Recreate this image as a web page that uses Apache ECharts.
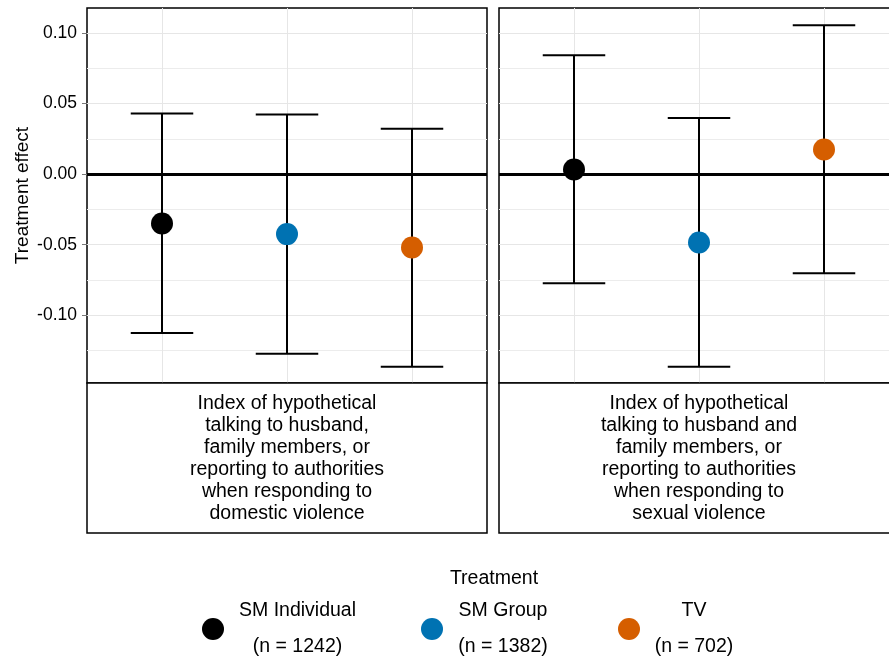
<!DOCTYPE html>
<html>
<head>
<meta charset="utf-8">
<script src="https://cdn.jsdelivr.net/npm/echarts@6/dist/echarts.min.js"></script>
<style>
  html, body { margin: 0; padding: 0; background: #fff; }
  #chart { width: 889px; height: 660px; }
</style>
</head>
<body>
<div id="chart"></div>
<script>
// Treatment arms, their sample sizes and colours
const categories = ['SM Individual', 'SM Group', 'TV'];
const sampleSizes = [1242, 1382, 702];
const armColors = ['#000000', '#0072B2', '#D55E00'];

// Outcome facets
const outcomeLabels = [
  'Index of hypothetical\ntalking to husband,\nfamily members, or\nreporting to authorities\nwhen responding to\ndomestic violence',
  'Index of hypothetical\ntalking to husband and\nfamily members, or\nreporting to authorities\nwhen responding to\nsexual violence'
];

// Estimates with confidence bounds, domestic violence index
const domesticEstimate = [-0.035, -0.0425, -0.052];
const domesticLower = [-0.1126, -0.1273, -0.1365];
const domesticUpper = [0.043, 0.0423, 0.0321];

// Estimates with confidence bounds, sexual violence index
const sexualEstimate = [0.0033, -0.0484, 0.0175];
const sexualLower = [-0.0774, -0.1365, -0.0703];
const sexualUpper = [0.0843, 0.0397, 0.1055];

// Axis ticks
const yTicks = [-0.10, -0.05, 0.00, 0.05, 0.10];
const yMinorTicks = [-0.125, -0.075, -0.025, 0.025, 0.075];
const xPositions = [1, 2, 3];

const Y_MIN = -0.148, Y_MAX = 0.1177;
const FONT = 'Liberation Sans, Arial, sans-serif';

const chart = echarts.init(document.getElementById('chart'), null, { renderer: 'canvas' });

const panels = [
  { est: domesticEstimate, lo: domesticLower, hi: domesticUpper, left: 87 },
  { est: sexualEstimate, lo: sexualLower, hi: sexualUpper, left: 499 }
];
const PANEL_TOP = 8, PANEL_H = 375, PANEL_W = 400, STRIP_H = 150;

const grids = panels.map(p => ({
  left: p.left, top: PANEL_TOP, width: PANEL_W, height: PANEL_H,
  outerBoundsMode: 'none', containLabel: false,
  show: true, borderColor: '#000', borderWidth: 1.5, backgroundColor: 'transparent'
}));

const xAxes = panels.map((p, gi) => ({
  type: 'value', gridIndex: gi, min: 0.4, max: 3.6, offset: STRIP_H,
  axisLine: { show: false },
  axisTick: { show: true, customValues: xPositions, length: 4, lineStyle: { color: '#777', width: 1 } },
  axisLabel: { show: false, customValues: xPositions },
  splitLine: { show: true, lineStyle: { color: '#e6e6e6', width: 1 } }
}));

const yAxes = [];
panels.forEach((p, gi) => {
  // major axis
  yAxes.push({
    type: 'value', gridIndex: gi, min: Y_MIN, max: Y_MAX,
    name: gi === 0 ? 'Treatment effect' : '',
    nameLocation: 'middle', nameGap: 55,
    nameTextStyle: { fontSize: 19, color: '#000', fontFamily: FONT },
    axisLine: { show: false },
    axisTick: { show: gi === 0, customValues: yTicks, length: 5, lineStyle: { color: '#777', width: 1 } },
    axisLabel: {
      show: gi === 0, customValues: yTicks, margin: 10,
      fontSize: 17.5, color: '#000', fontFamily: FONT,
      formatter: v => v.toFixed(2)
    },
    splitLine: { show: true, lineStyle: { color: '#e6e6e6', width: 1 } }
  });
  // minor grid lines
  yAxes.push({
    type: 'value', gridIndex: gi, min: Y_MIN, max: Y_MAX, position: 'left',
    axisLine: { show: false },
    axisTick: { show: false, customValues: yMinorTicks },
    axisLabel: { show: false, customValues: yMinorTicks },
    splitLine: { show: true, lineStyle: { color: '#ececec', width: 1 } }
  });
});

const series = [];
panels.forEach((p, gi) => {
  const barData = categories.map((c, i) => [xPositions[i], p.lo[i], p.hi[i]]);
  series.push({
    type: 'custom', name: 'errorbars', xAxisIndex: gi, yAxisIndex: gi * 2, z: 3,
    silent: true,
    data: barData,
    renderItem: (params, api) => {
      const x = api.value(0);
      const top = api.coord([x, api.value(2)]);
      const bot = api.coord([x, api.value(1)]);
      const half = api.size([0.25, 0])[0];
      const st = { stroke: '#000', lineWidth: 2, fill: null };
      return {
        type: 'group',
        children: [
          { type: 'line', shape: { x1: top[0], y1: top[1], x2: bot[0], y2: bot[1] }, style: st },
          { type: 'line', shape: { x1: top[0] - half, y1: top[1], x2: top[0] + half, y2: top[1] }, style: st },
          { type: 'line', shape: { x1: bot[0] - half, y1: bot[1], x2: bot[0] + half, y2: bot[1] }, style: st }
        ]
      };
    },
    markLine: {
      silent: true, symbol: 'none', z: 2,
      label: { show: false },
      lineStyle: { color: '#000', width: 3, type: 'solid' },
      data: [{ yAxis: 0 }]
    }
  });
  categories.forEach((c, i) => {
    series.push({
      type: 'scatter', name: c, xAxisIndex: gi, yAxisIndex: gi * 2, z: 10,
      symbol: 'circle', symbolSize: 22,
      itemStyle: { color: armColors[i], opacity: 1 },
      data: [[xPositions[i], p.est[i]]]
    });
  });
});

// Legend: one block per treatment arm
const legendLefts = [202, 421, 618];
const legendTextWidths = [137, 110, 98];
const legends = categories.map((c, i) => ({
  data: [c], left: legendLefts[i], top: 601, padding: 0,
  orient: 'horizontal', icon: 'circle', itemWidth: 22, itemHeight: 22,
  selectedMode: false,
  formatter: name => '{a|' + name + '}\n{a|(n = ' + sampleSizes[i] + ')}',
  textStyle: {
    rich: { a: { width: legendTextWidths[i], align: 'center', fontSize: 19.5, lineHeight: 36, color: '#000', fontFamily: FONT } }
  }
}));

// Facet strips below each panel and the legend title
const graphics = [];
panels.forEach((p, gi) => {
  graphics.push({
    type: 'rect', silent: true, z: 1,
    shape: { x: p.left, y: PANEL_TOP + PANEL_H, width: PANEL_W, height: STRIP_H },
    style: { fill: '#fff', stroke: '#000', lineWidth: 1.5 }
  });
  graphics.push({
    type: 'text', silent: true, z: 2,
    style: {
      x: p.left + PANEL_W / 2, y: PANEL_TOP + PANEL_H + STRIP_H / 2 + 1,
      text: outcomeLabels[gi], align: 'center', verticalAlign: 'middle',
      fontSize: 19.5, lineHeight: 22, fill: '#000', fontFamily: FONT
    }
  });
});
graphics.push({
  type: 'text', silent: true,
  style: { x: 494, y: 579, text: 'Treatment', align: 'center', verticalAlign: 'middle', fontSize: 19.5, fill: '#000', fontFamily: FONT }
});

chart.setOption({
  backgroundColor: '#fff',
  animation: false,
  textStyle: { fontFamily: FONT },
  grid: grids,
  xAxis: xAxes,
  yAxis: yAxes,
  legend: legends,
  graphic: graphics,
  series: series
});
</script>
</body>
</html>
